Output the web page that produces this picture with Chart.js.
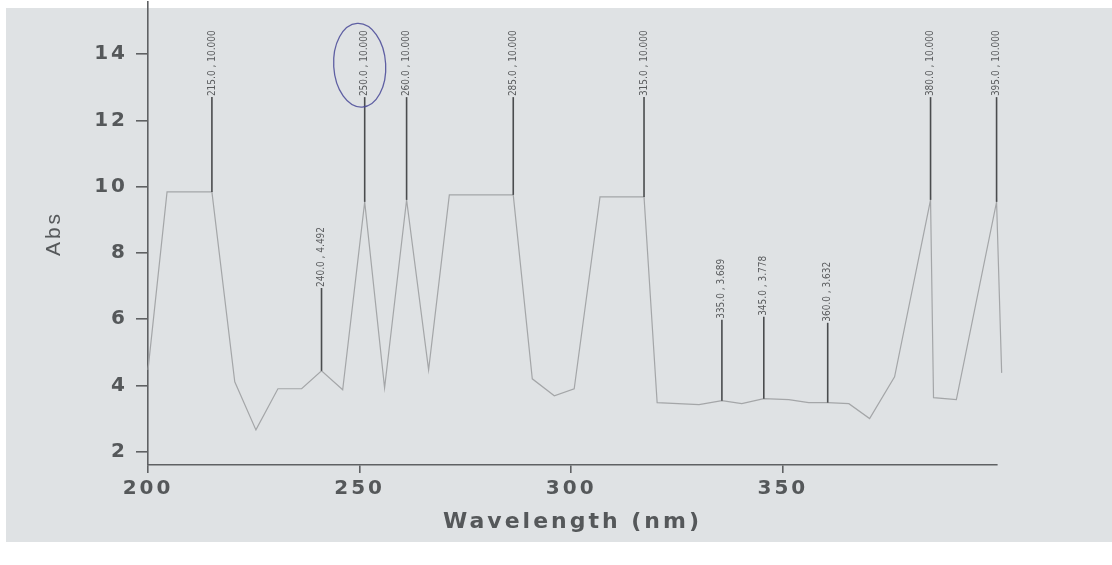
<!DOCTYPE html>
<html>
<head>
<meta charset="utf-8">
<title>Abs vs Wavelength</title>
<script src="https://cdn.jsdelivr.net/npm/chart.js@4/dist/chart.umd.min.js"></script>
<style>
  html, body { margin: 0; padding: 0; background: #ffffff; }
  #paper {
    position: absolute; left: 6px; top: 8px; width: 1106px; height: 534px;
    background: #dfe2e4;
  }
  #wrap { position: absolute; left: 0; top: 0; width: 1112px; height: 565px; }
</style>
</head>
<body>
<div id="paper"></div>
<div id="wrap"><canvas id="specChart"></canvas></div>
<script>
// Spectrum trace (nm / Abs)
const wavelength = [200.0, 204.5, 215.1, 220.5, 225.5, 230.7, 236.3, 241.0, 246.0, 251.2,
  255.9, 261.1, 266.3, 271.2, 286.3, 290.8, 296.0, 300.7, 306.8, 317.2,
  320.3, 330.2, 335.6, 340.3, 345.5, 351.4, 356.1, 360.6, 365.6, 370.5,
  376.4, 384.9, 385.6, 391.0, 400.5, 401.7];
const absorbance = [4.47, 9.84, 9.84, 4.11, 2.66, 3.90, 3.90, 4.44, 3.87, 9.54,
  3.93, 9.60, 4.47, 9.75, 9.75, 4.20, 3.69, 3.90, 9.69, 9.69,
  3.48, 3.42, 3.54, 3.45, 3.60, 3.57, 3.48, 3.48, 3.45, 3.00,
  4.26, 9.60, 3.63, 3.57, 9.54, 4.38];

// Peak picks: where the marker sits, how high its stem goes, and its printed text
const peakWave = [215.1, 241.0, 251.2, 261.1, 286.3, 317.2, 335.6, 345.5, 360.6, 384.9, 400.5];
const peakAbs = [9.84, 4.44, 9.54, 9.60, 9.75, 9.69, 3.54, 3.60, 3.48, 9.60, 9.54];
const peakTop = [12.70, 6.94, 12.70, 12.70, 12.70, 12.70, 5.98, 6.07, 5.89, 12.70, 12.70];
const peakText = ['215.0 , 10.000', '240.0 , 4.492', '250.0 , 10.000', '260.0 , 10.000',
  '285.0 , 10.000', '315.0 , 10.000', '335.0 , 3.689', '345.0 , 3.778', '360.0 , 3.632',
  '380.0 , 10.000', '395.0 , 10.000'];
const circledPeak = 2; // the one ringed in pen

const xTicks = [200, 250, 300, 350];
const yTicks = [2, 4, 6, 8, 10, 12, 14];

const axisColor = '#5f6163';
const textColor = '#55585a';
const peakFont = '10px "DejaVu Sans Condensed", "Liberation Sans", sans-serif';

// printed axis lettering is widely spaced
const spacingPlugin = {
  id: 'spacing',
  beforeDraw(chart) { chart.ctx.letterSpacing = '3px'; },
  afterDraw(chart) { chart.ctx.letterSpacing = '0px'; }
};

const peakPlugin = {
  id: 'peakPicks',
  afterDatasetsDraw(chart) {
    const { ctx, scales: { x, y } } = chart;
    ctx.save();
    ctx.letterSpacing = '0px';
    for (let i = 0; i < peakWave.length; i++) {
      const px = x.getPixelForValue(peakWave[i]);
      const py0 = y.getPixelForValue(peakAbs[i]);
      const py1 = y.getPixelForValue(peakTop[i]);
      ctx.strokeStyle = '#4a4c4e';
      ctx.lineWidth = 1.6;
      ctx.beginPath();
      ctx.moveTo(px, py0);
      ctx.lineTo(px, py1);
      ctx.stroke();

      ctx.font = peakFont;
      const w = ctx.measureText(peakText[i]).width;
      ctx.save();
      ctx.translate(px, py1);
      ctx.rotate(-Math.PI / 2);
      ctx.fillStyle = '#5a5c5e';
      ctx.textAlign = 'left';
      ctx.textBaseline = 'middle';
      ctx.fillText(peakText[i], 1, 0);
      ctx.restore();

      if (i === circledPeak) {
        // pen ring around the label
        ctx.strokeStyle = 'rgba(72, 72, 150, 0.85)';
        ctx.lineWidth = 1.3;
        ctx.beginPath();
        ctx.ellipse(px - 5, py1 - w / 2 + 1, 26, w / 2 + 9, -0.06, 0, Math.PI * 2);
        ctx.stroke();
      }
    }
    ctx.restore();
  }
};

new Chart(document.getElementById('specChart'), {
  type: 'scatter',
  data: {
    datasets: [{
      data: wavelength.map((w, i) => ({ x: w, y: absorbance[i] })),
      showLine: true,
      borderColor: '#a4a6a8',
      borderWidth: 1.2,
      pointRadius: 0,
      tension: 0,
      clip: false
    }]
  },
  options: {
    responsive: true,
    maintainAspectRatio: false,
    animation: false,
    layout: { padding: { top: 2, right: 115, left: 0, bottom: 30 } },
    plugins: { legend: { display: false }, tooltip: { enabled: false } },
    scales: {
      x: {
        type: 'linear',
        min: 200,
        max: 400.6,
        afterBuildTicks: (scale) => { scale.ticks = xTicks.map(v => ({ value: v })); },
        afterFit: (scale) => { scale.height = 70; },
        border: { color: axisColor, width: 1.6 },
        grid: { drawOnChartArea: false, tickLength: 8, color: axisColor, lineWidth: 1.6 },
        ticks: {
          color: textColor,
          padding: 4,
          font: { family: '"DejaVu Sans", sans-serif', size: 20, weight: 'bold' }
        },
        title: {
          display: true,
          text: 'Wavelength (nm)',
          color: textColor,
          padding: { top: 0, bottom: 0 },
          font: { family: '"DejaVu Sans", sans-serif', size: 22, weight: 'bold' }
        }
      },
      y: {
        min: 1.6,
        max: 15.57,
        afterBuildTicks: (scale) => { scale.ticks = yTicks.map(v => ({ value: v })); },
        afterFit: (scale) => {
          scale.width = 148;
          scale.paddingTop = 0;
          scale.paddingBottom = 0;
        },
        border: { color: axisColor, width: 1.6 },
        grid: { drawOnChartArea: false, tickLength: 12, color: axisColor, lineWidth: 1.6 },
        ticks: {
          color: textColor,
          padding: 8,
          font: { family: '"DejaVu Sans", sans-serif', size: 20, weight: 'bold' }
        },
        title: {
          display: true,
          text: 'Abs',
          color: textColor,
          padding: { top: 42, bottom: 0 },
          font: { family: '"Liberation Sans", Arial, sans-serif', size: 21 }
        }
      }
    }
  },
  plugins: [spacingPlugin, peakPlugin]
});
</script>
</body>
</html>
